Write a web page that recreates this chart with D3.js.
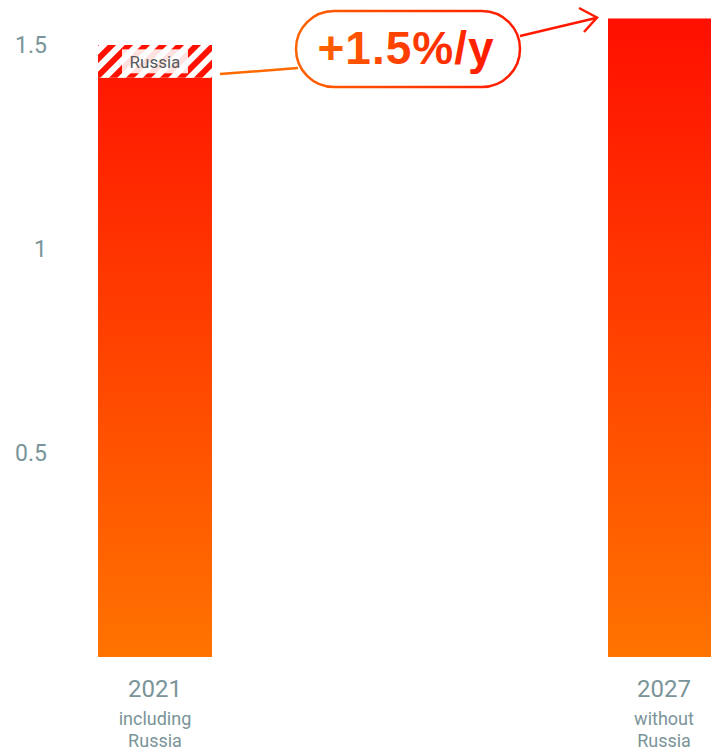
<!DOCTYPE html>
<html>
<head>
<meta charset="utf-8">
<script src="https://cdn.jsdelivr.net/npm/d3@7"></script>
<style>
  body { margin: 0; background: #fff; }
  svg { display: block; font-family: Roboto, "Noto Sans", sans-serif; }
</style>
</head>
<body>
<svg id="svg" width="711" height="753"></svg>
<script>
// bar data
const years = ["2021", "2027"];
const subtitles = [["including", "Russia"], ["without", "Russia"]];
const baseValues = [1.42, 1.565];
const russiaValues = [0.08, 0];
const yTicks = [0.5, 1, 1.5];
const growthLabel = "+1.5%/y";

let svg = d3.select("#svg");
let width = +svg.attr("width");
let height = +svg.attr("height");

let y = d3.scaleLinear().domain([0, 1.5]).range([657, 45]);
let x = d3.scaleBand().domain(years).range([98, 722]).paddingInner(0.7765).paddingOuter(0);

let defs = svg.append("defs");

// vertical bar gradient, red on top -> orange at the bottom
let grad = defs.append("linearGradient")
  .attr("id", "barGrad")
  .attr("gradientUnits", "userSpaceOnUse")
  .attr("x1", 0).attr("y1", y(1.565))
  .attr("x2", 0).attr("y2", y(0));
grad.append("stop").attr("offset", 0).attr("stop-color", "#ff0f00");
grad.append("stop").attr("offset", 1).attr("stop-color", "#ff7300");

// horizontal gradient for the annotation
let hgrad = defs.append("linearGradient")
  .attr("id", "annoGrad")
  .attr("x1", 0).attr("y1", 0).attr("x2", 1).attr("y2", 0);
hgrad.append("stop").attr("offset", 0).attr("stop-color", "#ff6200");
hgrad.append("stop").attr("offset", 1).attr("stop-color", "#ff1a00");

// hatch pattern for Russia
let pat = defs.append("pattern")
  .attr("id", "hatch")
  .attr("patternUnits", "userSpaceOnUse")
  .attr("width", 12).attr("height", 12)
  .attr("patternTransform", "rotate(45)");
pat.append("rect").attr("width", 12).attr("height", 12).attr("fill", "#fff");
pat.append("rect").attr("width", 6).attr("height", 12).attr("fill", "#ff1000");

// y axis labels (no line)
svg.append("g")
  .selectAll("text")
  .data(yTicks)
  .enter()
  .append("text")
  .attr("x", 47)
  .attr("y", (d) => y(d))
  .attr("dy", "0.35em")
  .attr("text-anchor", "end")
  .style("font-size", "23px")
  .style("fill", "#7a9499")
  .text((d) => d);

// base bars
svg.append("g")
  .selectAll("rect")
  .data(baseValues)
  .enter()
  .append("rect")
  .attr("x", (d, i) => x(years[i]))
  .attr("y", (d) => y(d))
  .attr("width", x.bandwidth())
  .attr("height", (d) => y(0) - y(d))
  .style("fill", "url(#barGrad)");

// Russia hatched segment
svg.append("g")
  .selectAll("rect")
  .data(russiaValues.filter((d) => d > 0))
  .enter()
  .append("rect")
  .attr("x", x(years[0]))
  .attr("y", (d) => y(baseValues[0] + d))
  .attr("width", x.bandwidth())
  .attr("height", (d) => y(baseValues[0]) - y(baseValues[0] + d))
  .style("fill", "url(#hatch)");

let rusMid = (y(baseValues[0]) + y(baseValues[0] + russiaValues[0])) / 2;
let rusCx = x(years[0]) + x.bandwidth() / 2;
svg.append("rect")
  .attr("x", rusCx - 33)
  .attr("y", rusMid - 12)
  .attr("width", 66)
  .attr("height", 24)
  .style("fill", "#fff")
  .style("fill-opacity", 0.88);
svg.append("text")
  .attr("x", rusCx)
  .attr("y", rusMid + 1)
  .attr("dy", "0.35em")
  .attr("text-anchor", "middle")
  .style("font-size", "17px")
  .style("fill", "#55595c")
  .text("Russia");

// category labels
let cat = svg.append("g")
  .selectAll("g")
  .data(years)
  .enter()
  .append("g")
  .attr("transform", (d) => `translate(${Math.min(x(d) + x.bandwidth() / 2, 664)},0)`);
cat.append("text")
  .attr("y", 697)
  .attr("text-anchor", "middle")
  .style("font-size", "24px")
  .style("fill", "#7a9499")
  .text((d) => d);
cat.each(function (d, i) {
  d3.select(this)
    .selectAll("text.sub")
    .data(subtitles[i])
    .enter()
    .append("text")
    .attr("class", "sub")
    .attr("y", (s, j) => 725 + j * 22)
    .attr("text-anchor", "middle")
    .style("font-size", "18px")
    .style("fill", "#7a9499")
    .text((s) => s);
});

// growth annotation
let anno = svg.append("g");
anno.append("line")
  .attr("x1", x(years[0]) + x.bandwidth() + 8).attr("y1", 74)
  .attr("x2", 298).attr("y2", 68)
  .style("stroke", "#ff6a00")
  .style("stroke-width", 2.5);
anno.append("line")
  .attr("x1", 520).attr("y1", 36)
  .attr("x2", 596).attr("y2", 18)
  .style("stroke", "#ff1a00")
  .style("stroke-width", 2.5);
anno.append("path")
  .attr("d", "M579,8 L597,17.5 L584,32")
  .style("fill", "none")
  .style("stroke", "#ff1a00")
  .style("stroke-width", 2.5);
anno.append("rect")
  .attr("x", 296).attr("y", 11)
  .attr("width", 224).attr("height", 76)
  .attr("rx", 38)
  .style("fill", "#fff")
  .style("stroke", "url(#annoGrad)")
  .style("stroke-width", 2.5);
anno.append("text")
  .attr("x", 406)
  .attr("y", 64)
  .attr("text-anchor", "middle")
  .style("font-family", "'Liberation Sans', Arial, sans-serif")
  .style("font-weight", "bold")
  .style("font-size", "46px")
  .style("letter-spacing", "1px")
  .style("fill", "url(#annoGrad)")
  .text(growthLabel);
</script>
</body>
</html>
